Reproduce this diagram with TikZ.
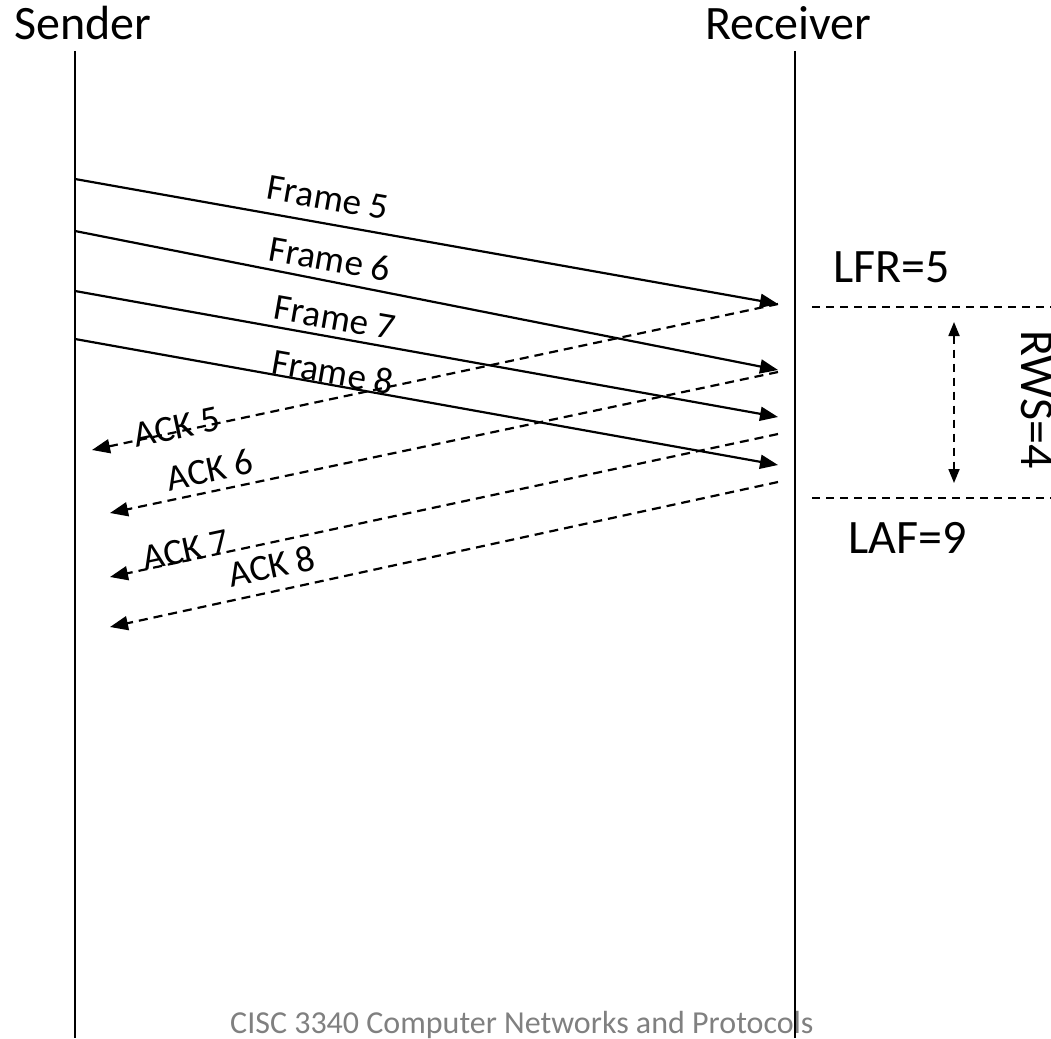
\documentclass[tikz,border=0pt]{standalone}
\usepackage{fontspec}
\setmainfont{Carlito}
\usetikzlibrary{arrows.meta}
\begin{document}
\begin{tikzpicture}[x=1pt,y=-1pt,
  life/.style={line width=2.5pt},
  frm/.style={line width=2.2pt,-{Triangle[length=18pt,width=14pt]}},
  ack/.style={line width=2.2pt,dash pattern=on 9pt off 6pt,-{Triangle[length=18pt,width=14pt]}},
  win/.style={line width=1.8pt,dash pattern=on 8pt off 6pt},
  big/.style={font=\fontsize{48}{56}\selectfont,inner sep=0pt},
  lbl/.style={font=\fontsize{37}{44}\selectfont,inner sep=0pt},
  foot/.style={font=\fontsize{32}{38}\selectfont,inner sep=0pt,text=black!50}]
\useasboundingbox (0,0) rectangle (1051,1038);
% headings
\node[big,anchor=base west] (snd) at (14,40) {Sender};
\node[big,anchor=base west] (rcv) at (705,40) {Receiver};
% lifelines
\coordinate (stop) at (75,51);
\coordinate (sbot) at (75,1038);
\coordinate (rtop) at (795,51);
\coordinate (rbot) at (795,1038);
% footer
\node[foot,anchor=base west] (ft) at (230,1033) {CISC 3340 Computer Networks and Protocols};
\draw[life] (stop) -- (sbot);
\draw[life] (rtop) -- (rbot);
% frame endpoints
\coordinate (f5s) at (75,179);  \coordinate (f5e) at (778,304);
\coordinate (f6s) at (75,231);  \coordinate (f6e) at (778,370);
\coordinate (f7s) at (75,291);  \coordinate (f7e) at (778,417);
\coordinate (f8s) at (75,339);  \coordinate (f8e) at (778,465);
\draw[frm] (f5s) -- (f5e);
\draw[frm] (f6s) -- (f6e);
\draw[frm] (f7s) -- (f7e);
\draw[frm] (f8s) -- (f8e);
\node[lbl,rotate=-10] (l5) at (328,198) {Frame 5};
\node[lbl,rotate=-10] (l6) at (330,259) {Frame 6};
\node[lbl,rotate=-10] (l7) at (335,318) {Frame 7};
\node[lbl,rotate=-10] (l8) at (333,372) {Frame 8};
% acks
\coordinate (a5s) at (778,304); \coordinate (a5e) at (92,450);
\coordinate (a6s) at (778,372); \coordinate (a6e) at (110,513);
\coordinate (a7s) at (778,434); \coordinate (a7e) at (110,577);
\coordinate (a8s) at (778,482); \coordinate (a8e) at (110,627);
\draw[ack] (a5s) -- (a5e);
\draw[ack] (a6s) -- (a6e);
\draw[ack] (a7s) -- (a7e);
\draw[ack] (a8s) -- (a8e);
\node[lbl,rotate=12] (k5) at (177,427) {ACK 5};
\node[lbl,rotate=12] (k6) at (210,470) {ACK 6};
\node[lbl,rotate=12] (k7) at (186,550) {ACK 7};
\node[lbl,rotate=12] (k8) at (272,566) {ACK 8};
% window
\coordinate (w1a) at (812,307); \coordinate (w1b) at (1051,307);
\coordinate (w2a) at (812,498); \coordinate (w2b) at (1051,498);
\draw[win] (w1a) -- (w1b);
\draw[win] (w2a) -- (w2b);
\coordinate (d1) at (954,322); \coordinate (d2) at (954,483);
\draw[win,{Triangle[length=14pt,width=11pt]}-{Triangle[length=14pt,width=11pt]}] (d1) -- (d2);
\node[big,anchor=base west] (lfr) at (833,282) {LFR=5};
\node[big,anchor=base west] (laf) at (848,553) {LAF=9};
\node[big,anchor=base west,rotate=-90] (rws) at (1021,330) {RWS=4};
\end{tikzpicture}
\end{document}
